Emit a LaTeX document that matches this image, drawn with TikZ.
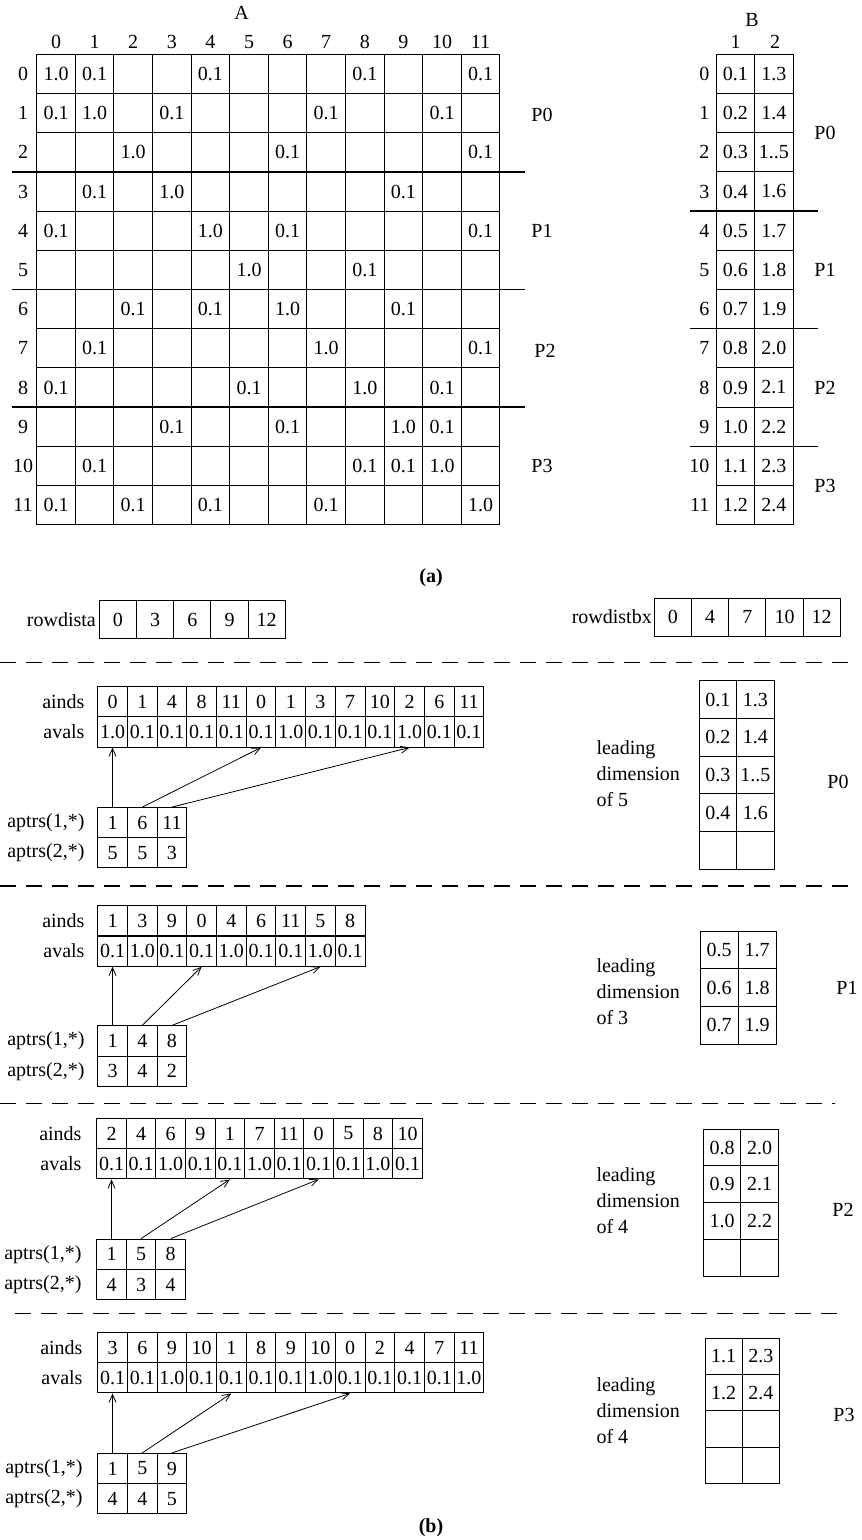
\documentclass[tikz,border=0pt]{standalone}
\usepackage{fontspec}
\setmainfont{Liberation Serif}
\usetikzlibrary{arrows.meta}

\begin{document}
\begin{tikzpicture}[x=1pt,y=-1pt,font=\fontsize{20}{24}\selectfont,
  acell/.style={draw,line width=1pt,inner sep=0pt,minimum width=38.6pt,minimum height=39.2pt},
  vcell/.style={draw,line width=1pt,inner sep=0pt,minimum width=29.7pt,minimum height=30.2pt},
  rcell/.style={draw,line width=1pt,inner sep=0pt,minimum width=37.2pt,minimum height=37.6pt},
  bcell/.style={draw,line width=1pt,inner sep=0pt,minimum width=37.5pt,minimum height=#1},
  part/.style={line width=1.5pt},
  sep/.style={line width=1.5pt,dash pattern=on 16pt off 10pt},
  ptr/.style={line width=.8pt,-{Straight Barb[length=8pt,width=7pt]}},
  lead/.style={anchor=west,align=left,font=\fontsize{20}{26}\selectfont}]
\useasboundingbox (0,0) rectangle (862,1540);
% (a) matrix A
\node (atitle) at (241.7,13.3) {A};
\foreach \c in {0,...,11} \node (acol\c) at (56+38.6*\c,41.7) {\c};
\foreach \r in {0,...,11} {
  \node (arow\r) at (23,73.9+39.2*\r) {\r};
  \foreach \c in {0,...,11} \node[acell] (a\r-\c) at (56+38.6*\c,73.9+39.2*\r) {};
}
\foreach \r/\c/\v in {0/0/1.0,0/1/0.1,0/4/0.1,0/8/0.1,0/11/0.1,
  1/0/0.1,1/1/1.0,1/3/0.1,1/7/0.1,1/10/0.1,
  2/2/1.0,2/6/0.1,2/11/0.1,
  3/1/0.1,3/3/1.0,3/9/0.1,
  4/0/0.1,4/4/1.0,4/6/0.1,4/11/0.1,
  5/5/1.0,5/8/0.1,
  6/2/0.1,6/4/0.1,6/6/1.0,6/9/0.1,
  7/1/0.1,7/7/1.0,7/11/0.1,
  8/0/0.1,8/5/0.1,8/8/1.0,8/10/0.1,
  9/3/0.1,9/6/0.1,9/9/1.0,9/10/0.1,
  10/1/0.1,10/8/0.1,10/9/0.1,10/10/1.0,
  11/0/0.1,11/2/0.1,11/4/0.1,11/7/0.1,11/11/1.0}
  \node (av\r-\c) at (a\r-\c) {\v};
\draw[part] (12,172) -- (525,172);
\draw[part] (12,289.7) -- (525,289.7);
\draw[part] (12,407) -- (525,407);
\node (ap0) at (542,115) {P0};
\node (ap1) at (542,231) {P1};
\node (ap2) at (545,351) {P2};
\node (ap3) at (542,466) {P3};
% (a) matrix B
\node (btitle) at (752,20) {B};
\node (bcol1) at (735.5,42) {1};
\node (bcol2) at (775,42) {2};
\foreach \r/\u/\w in {0/0.1/1.3,1/0.2/1.4,2/0.3/1..5,3/0.4/1.6,4/0.5/1.7,5/0.6/1.8,
  6/0.7/1.9,7/0.8/2.0,8/0.9/2.1,9/1.0/2.2,10/1.1/2.3,11/1.2/2.4} {
  \node[anchor=east] (brow\r) at (713,73.9+39.2*\r) {\r};
  \node[acell,minimum width=38.5pt] (b\r-1) at (735.25,73.9+39.2*\r) {\u};
  \node[acell,minimum width=38.5pt] (b\r-2) at (773.75,73.9+39.2*\r) {\w};
}
\draw[part] (690,211.1) -- (818,211.1);
\draw[part] (690,328.7) -- (818,328.7);
\draw[part] (690,446.3) -- (818,446.3);
\node (bp0) at (825,133) {P0};
\node (bp1) at (825,270) {P1};
\node (bp2) at (825,388) {P2};
\node (bp3) at (825,486) {P3};
\node[font=\fontsize{20}{24}\selectfont\bfseries] (capa) at (431,578) {(a)};
% (b) row distributions
\node[anchor=east,inner sep=1pt] (rda) at (97,620) {rowdista};
\foreach \v [count=\i from 0] in {0,3,6,9,12}
  \node[rcell] (rda\i) at (117.9+37.2*\i,619.5) {\v};
\node[anchor=east,inner sep=1pt] (rdb) at (653,617) {rowdistbx};
\foreach \v [count=\i from 0] in {0,4,7,10,12}
  \node[rcell] (rdb\i) at (672.9+37.2*\i,617.2) {\v};
\draw[sep] (0,662.7) -- (849,662.7);
\draw[sep] (0,886) -- (848,886);
\draw[sep] (0,1103.3) -- (835,1103.3);
\draw[sep] (15,1313.3) -- (847,1313.3);
% P0
\node[anchor=east] (ainds0) at (88,701.8) {ainds};
\node[anchor=east] (avals0) at (88,731.9) {avals};
\node[anchor=east] (aptra0) at (88,822.7) {aptrs(1,*)};
\node[anchor=east] (aptrb0) at (88,852.6) {aptrs(2,*)};
\foreach \v [count=\i from 0] in {0,1,4,8,11,0,1,3,7,10,2,6,11}
  \node[vcell] (i0-\i) at (112.55+29.7*\i,701.8) {\v};
\foreach \v [count=\i from 0] in {1.0,0.1,0.1,0.1,0.1,0.1,1.0,0.1,0.1,0.1,1.0,0.1,0.1}
  \node[vcell] (v0-\i) at (112.55+29.7*\i,731.9) {\v};
\foreach \v/\w [count=\i from 0] in {1/5,6/5,11/3} {
  \node[vcell] (p0-\i) at (112.55+29.7*\i,822.7) {\v};
  \node[vcell] (q0-\i) at (112.55+29.7*\i,852.6) {\w};
}
\draw[ptr] (p0-0.north) -- (v0-0.south);
\draw[ptr] (p0-1.north) -- (v0-5.south);
\draw[ptr] (p0-2.north) -- (v0-10.south);
\foreach \u/\w [count=\r from 0] in {0.1/1.3,0.2/1.4,0.3/1..5,0.4/1.6,{}/{}} {
  \node[bcell=37.7pt] (c0-\r-1) at (717.75,699.55+37.7*\r) {\u};
  \node[bcell=37.7pt] (c0-\r-2) at (755.25,699.55+37.7*\r) {\w};
}
\node[lead] (ld0) at (593,774) {leading\\dimension\\of 5};
\node (pp0) at (838,782) {P0};
% P1
\node[anchor=east] (ainds1) at (88,920.8) {ainds};
\node[anchor=east] (avals1) at (88,951.1) {avals};
\node[anchor=east] (aptra1) at (88,1041) {aptrs(1,*)};
\node[anchor=east] (aptrb1) at (88,1071.3) {aptrs(2,*)};
\foreach \v [count=\i from 0] in {1,3,9,0,4,6,11,5,8}
  \node[vcell] (i1-\i) at (112.55+29.7*\i,920.8) {\v};
\foreach \v [count=\i from 0] in {0.1,1.0,0.1,0.1,1.0,0.1,0.1,1.0,0.1}
  \node[vcell] (v1-\i) at (112.55+29.7*\i,951.1) {\v};
\foreach \v/\w [count=\i from 0] in {1/3,4/4,8/2} {
  \node[vcell] (p1-\i) at (112.55+29.7*\i,1041) {\v};
  \node[vcell] (q1-\i) at (112.55+29.7*\i,1071.3) {\w};
}
\draw[ptr] (p1-0.north) -- (v1-0.south);
\draw[ptr] (p1-1.north) -- (v1-3.south);
\draw[ptr] (p1-2.north) -- (v1-7.south);
\foreach \u/\w [count=\r from 0] in {0.5/1.7,0.6/1.8,0.7/1.9} {
  \node[bcell=37.7pt,minimum width=38pt] (c1-\r-1) at (719,949.9+37.7*\r) {\u};
  \node[bcell=37.7pt,minimum width=38pt] (c1-\r-2) at (757,949.9+37.7*\r) {\w};
}
\node[lead] (ld1) at (593,992) {leading\\dimension\\of 3};
\node (pp1) at (847,988) {P1};
% P2
\node[anchor=east] (ainds2) at (85,1133.5) {ainds};
\node[anchor=east] (avals2) at (85,1163.8) {avals};
\node[anchor=east] (aptra2) at (85,1254.2) {aptrs(1,*)};
\node[anchor=east] (aptrb2) at (85,1284.5) {aptrs(2,*)};
\foreach \v [count=\i from 0] in {2,4,6,9,1,7,11,0,5,8,10}
  \node[vcell,minimum width=29.6pt] (i2-\i) at (111.5+29.6*\i,1133.5) {\v};
\foreach \v [count=\i from 0] in {0.1,0.1,1.0,0.1,0.1,1.0,0.1,0.1,0.1,1.0,0.1}
  \node[vcell,minimum width=29.6pt] (v2-\i) at (111.5+29.6*\i,1163.8) {\v};
\foreach \v/\w [count=\i from 0] in {1/4,5/3,8/4} {
  \node[vcell,minimum width=29.6pt] (p2-\i) at (111.5+29.6*\i,1254.2) {\v};
  \node[vcell,minimum width=29.6pt] (q2-\i) at (111.5+29.6*\i,1284.5) {\w};
}
\draw[ptr] (p2-0.north) -- (v2-0.south);
\draw[ptr] (p2-1.north) -- (v2-4.south);
\draw[ptr] (p2-2.north) -- (v2-7.south);
\foreach \u/\w [count=\r from 0] in {0.8/2.0,0.9/2.1,1.0/2.2,{}/{}} {
  \node[bcell=36.7pt] (c2-\r-1) at (722,1147.6+36.7*\r) {\u};
  \node[bcell=36.7pt] (c2-\r-2) at (759.5,1147.6+36.7*\r) {\w};
}
\node[lead] (ld2) at (593,1201) {leading\\dimension\\of 4};
\node (pp2) at (843,1210) {P2};
% P3
\node[anchor=east] (ainds3) at (86,1347.5) {ainds};
\node[anchor=east] (avals3) at (86,1377.8) {avals};
\node[anchor=east] (aptra3) at (86,1468.5) {aptrs(1,*)};
\node[anchor=east] (aptrb3) at (86,1498.8) {aptrs(2,*)};
\foreach \v [count=\i from 0] in {3,6,9,10,1,8,9,10,0,2,4,7,11}
  \node[vcell] (i3-\i) at (112.55+29.7*\i,1347.5) {\v};
\foreach \v [count=\i from 0] in {0.1,0.1,1.0,0.1,0.1,0.1,0.1,1.0,0.1,0.1,0.1,0.1,1.0}
  \node[vcell] (v3-\i) at (112.55+29.7*\i,1377.8) {\v};
\foreach \v/\w [count=\i from 0] in {1/4,5/4,9/5} {
  \node[vcell] (p3-\i) at (112.55+29.7*\i,1468.5) {\v};
  \node[vcell] (q3-\i) at (112.55+29.7*\i,1498.8) {\w};
}
\draw[ptr] (p3-0.north) -- (v3-0.south);
\draw[ptr] (p3-1.north) -- (v3-4.south);
\draw[ptr] (p3-2.north) -- (v3-8.south);
\foreach \u/\w [count=\r from 0] in {1.1/2.3,1.2/2.4,{}/{},{}/{}} {
  \node[bcell=36.25pt,minimum width=37.2pt] (c3-\r-1) at (723.6,1356.4+36.25*\r) {\u};
  \node[bcell=36.25pt,minimum width=37.2pt] (c3-\r-2) at (760.8,1356.4+36.25*\r) {\w};
}
\node[lead] (ld3) at (593,1411) {leading\\dimension\\of 4};
\node (pp3) at (844,1415) {P3};
\node[font=\fontsize{20}{24}\selectfont\bfseries] (capb) at (431,1528) {(b)};
\end{tikzpicture}
\end{document}
